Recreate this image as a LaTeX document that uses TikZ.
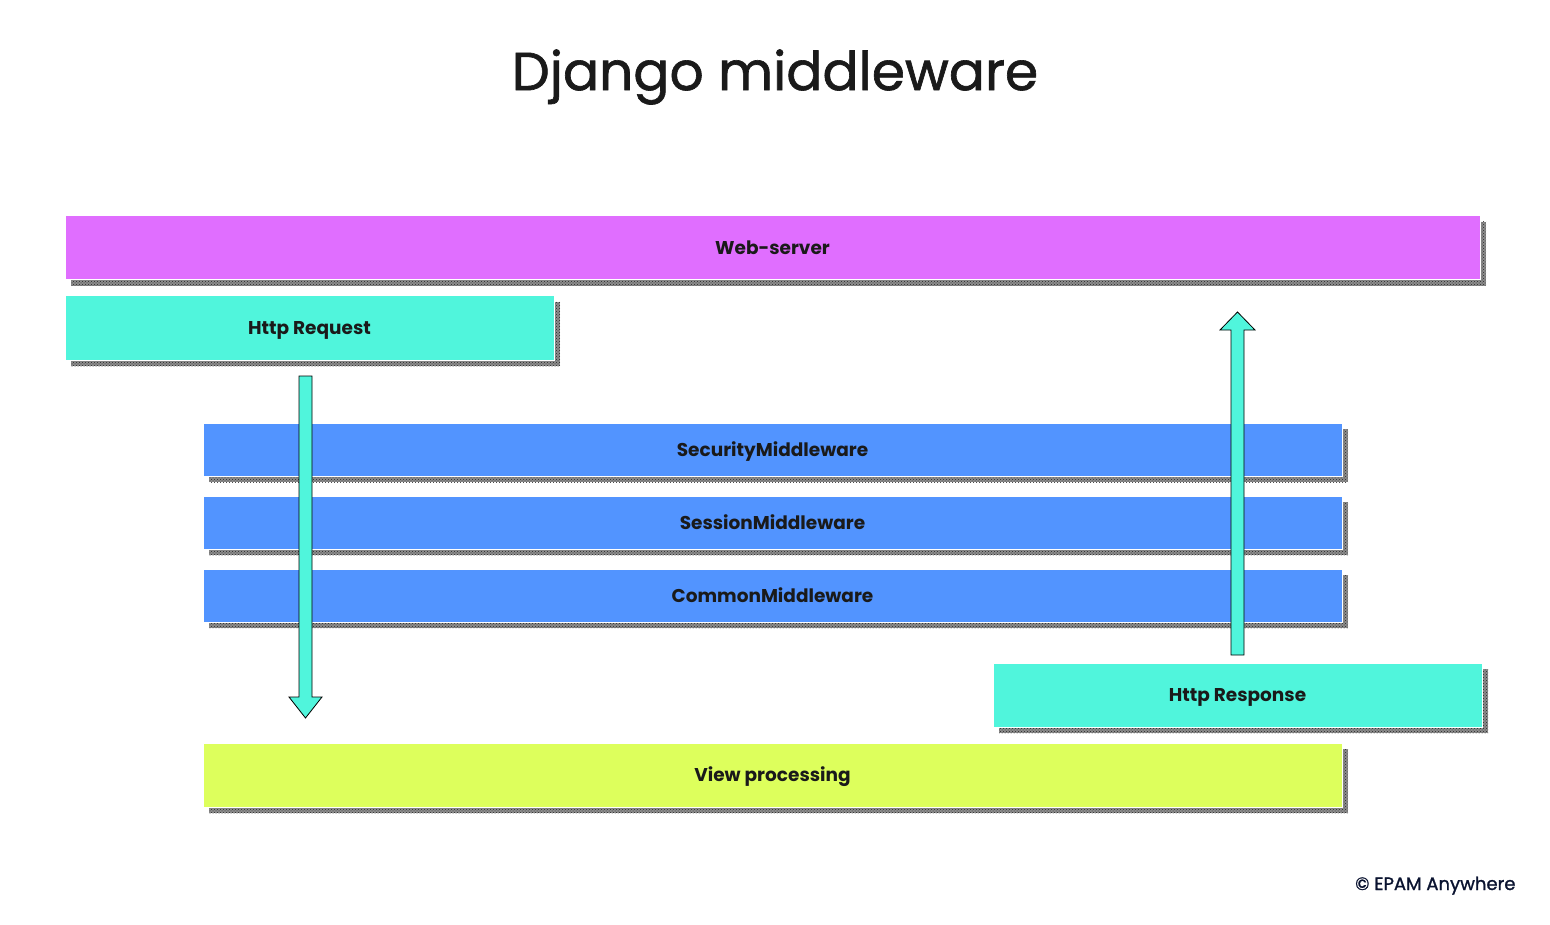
\documentclass[tikz,border=0pt]{standalone}
\usepackage{fontspec}
\setmainfont{Poppins}
\newfontfamily\medfont[FakeBold=1.2]{Poppins}
\usetikzlibrary{patterns}
\definecolor{webc}{HTML}{E06EFF}
\definecolor{httpc}{HTML}{50F5DC}
\definecolor{mwc}{HTML}{5294FF}
\definecolor{viewc}{HTML}{DDFF5C}
\definecolor{txtc}{HTML}{1A1A1A}
\definecolor{copyc}{HTML}{0A1330}
\tikzset{
  layer/.style={draw=white, line width=1pt, inner sep=0pt, text=txtc,
    text height=13pt, text depth=0pt,
    font=\fontsize{18.5}{20}\selectfont\bfseries},
  shade/.style={pattern=crosshatch dots, pattern color=black!85},
  flow/.style={draw=black, line width=0.8pt, fill=httpc, line join=miter}
}
\newcommand{\layerbox}[7]{% name, x1, y1, x2, y2, colour, text
  \fill[black!45] (#2+6,#3+6) rectangle (#4+6,#5+6);
  \fill[shade] (#2+6,#3+6) rectangle (#4+6,#5+6);
  \node[layer, fill=#6, minimum width={(#4-#2)*1pt}, minimum height={(#5-#3)*1pt}]
    (#1) at ({(#2+#4)/2},{(#3+#5)/2}) {#7};
}
\begin{document}
\begin{tikzpicture}[x=1pt,y=-1pt]
\useasboundingbox[fill=white] (0,0) rectangle (1550,925);
\node[text=txtc, font=\medfont\fontsize{53.5}{60}\selectfont] (title) at (775,77) {Django middleware};
\layerbox{web}{65}{216}{1480}{280}{webc}{Web-server}
\layerbox{req}{65}{296}{554}{360}{httpc}{Http Request}
\layerbox{sec}{203}{423}{1342}{476}{mwc}{SecurityMiddleware}
\layerbox{ses}{203}{496}{1342}{549}{mwc}{SessionMiddleware}
\layerbox{com}{203}{569}{1342}{622}{mwc}{CommonMiddleware}
\layerbox{resp}{993}{663}{1482}{727}{httpc}{Http Response}
\layerbox{view}{203}{743}{1342}{807}{viewc}{View processing}
% request flow arrow (down)
\coordinate (downtip) at (305.5,718);
\draw[flow] (299,376) -- (312,376) -- (312,697) -- (322,697) -- (downtip)
  -- (289,697) -- (299,697) -- cycle;
% response flow arrow (up)
\coordinate (uptip) at (1237.5,312);
\draw[flow] (1231,655) -- (1244,655) -- (1244,330) -- (1255,330) -- (uptip)
  -- (1220,330) -- (1231,330) -- cycle;
\node[anchor=base east, text=copyc, font=\medfont\fontsize{18}{20}\selectfont] (copy) at (1519,890) {© EPAM Anywhere};
\end{tikzpicture}
\end{document}
